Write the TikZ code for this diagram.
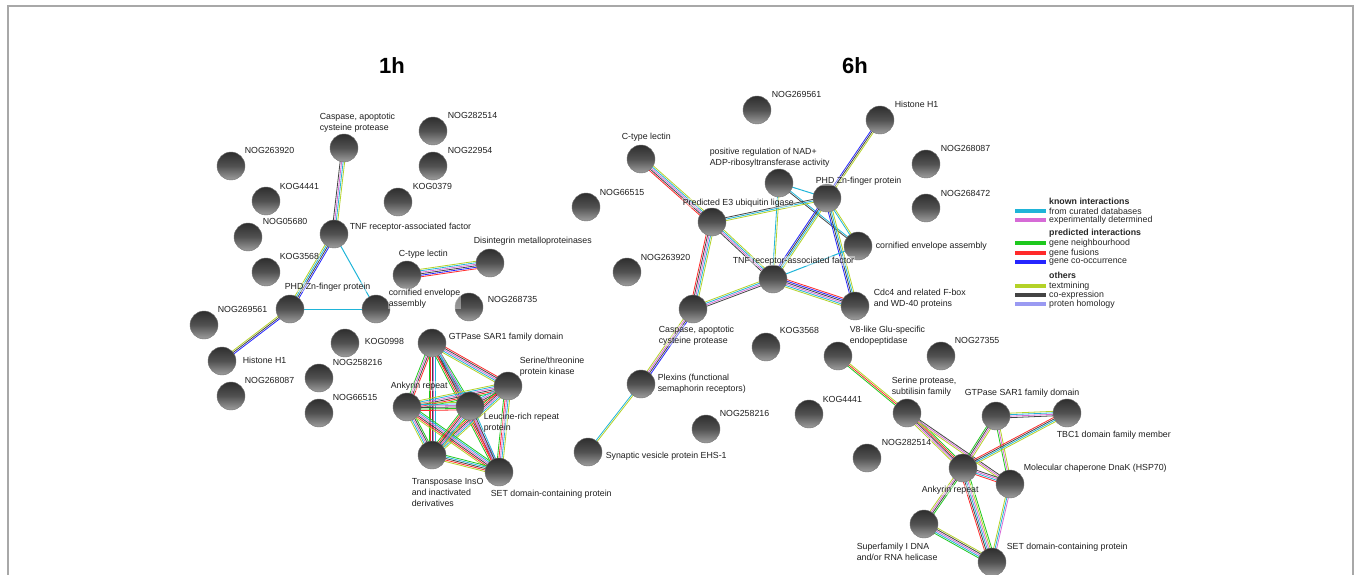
\documentclass[tikz,border=0pt]{standalone}
\usepackage{fontspec}
\setmainfont{Liberation Sans}
\usetikzlibrary{calc}
\pgfdeclarelayer{bg}
\pgfsetlayers{bg,main}
\definecolor{ccur}{HTML}{1FB4D8}
\definecolor{cexp}{HTML}{D66BD6}
\definecolor{cnei}{HTML}{1EC81E}
\definecolor{cfus}{HTML}{FF2A2A}
\definecolor{cocc}{HTML}{2525FF}
\definecolor{ctxt}{HTML}{B4D228}
\definecolor{ccoe}{HTML}{444444}
\definecolor{chom}{HTML}{9A9AF2}
\definecolor{frame}{HTML}{A8A8A8}
\newcommand\medge[3]{%
  \foreach \ecol [count=\en] in {#3}{\xdef\ncol{\en}}%
  \foreach \ecol [count=\ei] in {#3}{%
    \pgfmathsetmacro\off{(\ei-(\ncol+1)/2)*1.5}%
    \draw[\ecol, line width=0.8pt] ($(#1.center)!\off pt!90:(#2.center)$) -- ($(#2.center)!\off pt!-90:(#1.center)$);
  }}
\newcommand\sedge[3]{\draw[#3, line width=1pt] (#1.center) -- (#2.center);}
\tikzset{
  ball/.style={circle, minimum size=28pt, inner sep=0pt, draw=black!55, line width=0.4pt,
    top color=black!82, bottom color=black!38, middle color=black!68},
  lab/.style={anchor=west, align=left, inner sep=0.6pt, text=black!88,
    font=\fontsize{8.8}{11}\selectfont, fill=white, fill opacity=0.4, text opacity=1},
  ttl/.style={font=\fontsize{22}{26}\selectfont\bfseries},
  legline/.style={line width=3.2pt},
  legtext/.style={anchor=west, inner sep=0pt, font=\fontsize{8.8}{10}\selectfont, text=black!85},
  leghead/.style={legtext, font=\fontsize{8.8}{10}\selectfont\bfseries}
}
\begin{document}
\begin{tikzpicture}[x=1pt,y=-1pt]
\useasboundingbox (0,0) rectangle (1354,575);
\draw[frame, line width=1.3pt] (8,575) -- (8,6) -- (1353,6) -- (1353,575);
\node[ttl] (t1) at (392,66) {1h};
\node[ttl] (t6) at (855,66) {6h};
% ---------- left network balls
\node[ball] (Lcasp) at (344,148) {};
\node[ball] (L282514) at (433,131) {};
\node[ball] (L263920) at (231,166) {};
\node[ball] (L22954) at (433,166) {};
\node[ball] (L4441) at (266,201) {};
\node[ball] (L0379) at (398,202) {};
\node[ball] (L05680) at (248,237) {};
\node[ball] (Ltnf) at (334,234) {};
\node[ball] (L3568) at (266,272) {};
\node[ball] (Lctl) at (407,275) {};
\node[ball] (Ldis) at (490,263) {};
\node[ball] (Lphd) at (290,309) {};
\node[ball] (Lcorn) at (376,309) {};
\node[ball] (L268735) at (469,307) {};
\node[ball] (L269561) at (204,325) {};
\node[ball] (L0998) at (345,343) {};
\node[ball] (Lhist) at (222,361) {};
\node[ball] (Lgtp) at (432,343) {};
\node[ball] (L258216) at (319,378) {};
\node[ball] (L268087) at (231,396) {};
\node[ball] (Lstk) at (508,386) {};
\node[ball] (Lank) at (407,407) {};
\node[ball] (L66515) at (319,413) {};
\node[ball] (Llrr) at (470,406) {};
\node[ball] (Ltra) at (432,455) {};
\node[ball] (Lset) at (499,472) {};
% ---------- right network balls
\node[ball] (R269561) at (757,110) {};
\node[ball] (Rhist) at (880,120) {};
\node[ball] (Rctl) at (641,159) {};
\node[ball] (Rnad) at (779,183) {};
\node[ball] (R268087) at (926,164) {};
\node[ball] (Rphd) at (827,198) {};
\node[ball] (R268472) at (926,208) {};
\node[ball] (R66515) at (586,207) {};
\node[ball] (Re3) at (712,222) {};
\node[ball] (Rcorn) at (858,246) {};
\node[ball] (R263920) at (627,272) {};
\node[ball] (Rtnf) at (773,279) {};
\node[ball] (Rcasp) at (693,309) {};
\node[ball] (Rcdc) at (855,306) {};
\node[ball] (R3568) at (766,347) {};
\node[ball] (Rv8) at (838,356) {};
\node[ball] (R27355) at (941,356) {};
\node[ball] (Rplex) at (641,384) {};
\node[ball] (R4441) at (809,414) {};
\node[ball] (Rser) at (907,413) {};
\node[ball] (Rgtp) at (996,416) {};
\node[ball] (Rtbc) at (1067,413) {};
\node[ball] (R258216) at (706,429) {};
\node[ball] (R282514) at (867,458) {};
\node[ball] (Rsyn) at (588,452) {};
\node[ball] (Rank) at (963,468) {};
\node[ball] (Rdnak) at (1010,484) {};
\node[ball] (Rsup) at (924,524) {};
\node[ball] (Rset) at (992,562) {};
% ---------- edges
\begin{pgfonlayer}{bg}
\medge{Lcasp}{Ltnf}{ccoe,cexp,ccur,ctxt}
\medge{Ltnf}{Lphd}{ctxt,ccur,ccoe,cocc}
\sedge{Ltnf}{Lcorn}{ccur}
\sedge{Lphd}{Lcorn}{ccur}
\medge{Lphd}{Lhist}{ctxt,ccoe,cocc}
\medge{Lctl}{Ldis}{cfus,cocc,ccoe,cexp,ccur,ctxt}
\medge{Lgtp}{Lstk}{ctxt,ccur,cexp,ccoe,cfus}
\medge{Lgtp}{Lank}{cnei,cexp,ccoe,cfus}
\medge{Lgtp}{Llrr}{cfus,ccoe,ccur,cnei}
\medge{Lgtp}{Ltra}{cnei,cfus,ccoe,cexp,ccur}
\medge{Lgtp}{Lset}{cnei,cfus,ccoe,ccur,cexp}
\medge{Lstk}{Lank}{ctxt,ccur,cexp,ccoe,cfus,cnei}
\medge{Lstk}{Llrr}{ccur,cexp,ccoe,cfus}
\medge{Lstk}{Ltra}{cnei,cfus,ccoe,cexp,ccur,ctxt}
\medge{Lstk}{Lset}{cnei,cfus,cexp,ccur,ctxt}
\medge{Lank}{Llrr}{cfus,cnei,ccoe,cexp,ccur,ctxt}
\medge{Lank}{Ltra}{ctxt,ccur,cexp,ccoe,cnei}
\medge{Lank}{Lset}{ctxt,cfus,ccoe,cexp,ccur,cnei}
\medge{Llrr}{Ltra}{cnei,cfus,ccoe,cexp,ccur,ctxt}
\medge{Llrr}{Lset}{cfus,cexp,ccoe,ccur}
\medge{Ltra}{Lset}{ctxt,cfus,ccoe,ccur,cnei}
% right
\medge{Rhist}{Rphd}{cocc,ccoe,ctxt}
\medge{Rctl}{Re3}{cfus,ccoe,cexp,ccur,ctxt}
\sedge{Rnad}{Rphd}{ccur}
\medge{Rnad}{Rtnf}{ccur,ctxt}
\medge{Rnad}{Rcorn}{ccoe,ccur}
\medge{Re3}{Rphd}{ctxt,ccur,ccoe}
\medge{Re3}{Rtnf}{ccoe,cexp,ccur,ctxt}
\medge{Re3}{Rcasp}{cfus,ccoe,cexp,ccur,ctxt}
\medge{Rphd}{Rcorn}{ccur,ctxt}
\medge{Rphd}{Rtnf}{cocc,ccoe,ccur,ctxt}
\medge{Rphd}{Rcdc}{cocc,ccoe,ccur,ctxt}
\sedge{Rtnf}{Rcorn}{ccur}
\medge{Rtnf}{Rcdc}{ctxt,ccur,cexp,ccoe,cocc,cfus}
\medge{Rtnf}{Rcasp}{ctxt,ccur,cexp,ccoe}
\medge{Rcasp}{Rplex}{ctxt,cexp,ccoe,cocc}
\medge{Rplex}{Rsyn}{ccur,ctxt}
\medge{Rv8}{Rser}{cnei,cfus,ctxt}
\medge{Rser}{Rank}{ctxt,cexp,ccoe,cfus,cnei}
\medge{Rser}{Rdnak}{ctxt,cexp,ccoe}
\medge{Rgtp}{Rtbc}{ccoe,cexp,ccur,ctxt}
\medge{Rgtp}{Rank}{cnei,ccoe,cexp,ctxt}
\medge{Rgtp}{Rdnak}{cnei,cexp,ctxt}
\medge{Rtbc}{Rank}{cfus,ccoe,ccur,ctxt}
\medge{Rank}{Rdnak}{cfus,ccur,cexp,ccoe}
\medge{Rank}{Rsup}{ctxt,cexp,ccoe,cnei}
\medge{Rank}{Rset}{cfus,ccoe,ccur,cexp,ctxt,cnei}
\medge{Rdnak}{Rset}{ctxt,ccur,cexp}
\medge{Rsup}{Rset}{cnei,ccur,cexp,ccoe,ctxt}
\end{pgfonlayer}
% ---------- left labels
\node[lab] (Lcasp-l) at (319,122.5) {Caspase, apoptotic\\cysteine protease};
\node[lab] (L282514-l) at (447,115) {NOG282514};
\node[lab] (L263920-l) at (244,150) {NOG263920};
\node[lab] (L22954-l) at (447,150) {NOG22954};
\node[lab] (L4441-l) at (279,186) {KOG4441};
\node[lab] (L0379-l) at (412,186) {KOG0379};
\node[lab] (L05680-l) at (262,221) {NOG05680};
\node[lab] (Ltnf-l) at (349,227) {TNF receptor-associated factor};
\node[lab] (L3568-l) at (279,256) {KOG3568};
\node[lab] (Lctl-l) at (398,254) {C-type lectin};
\node[lab] (Ldis-l) at (473,241) {Disintegrin metalloproteinases};
\node[lab] (Lphd-l) at (284,287) {PHD Zn-finger protein};
\node[lab] (Lcorn-l) at (388,298.5) {cornified envelope\\assembly};
\node[lab] (L268735-l) at (487,299) {NOG268735};
\node[lab] (L269561-l) at (217,309) {NOG269561};
\node[lab] (L0998-l) at (364,341) {KOG0998};
\node[lab] (Lhist-l) at (242,360) {Histone H1};
\node[lab] (Lgtp-l) at (448,337) {GTPase SAR1 family domain};
\node[lab] (L258216-l) at (332,362) {NOG258216};
\node[lab] (L268087-l) at (244,380) {NOG268087};
\node[lab] (Lstk-l) at (519,366.5) {Serine/threonine\\protein kinase};
\node[lab] (Lank-l) at (390,386) {Ankyrin repeat};
\node[lab] (L66515-l) at (332,397) {NOG66515};
\node[lab] (Llrr-l) at (483,423) {Leucine-rich repeat\\protein};
\node[lab] (Ltra-l) at (411,492) {Transposase InsO\\and inactivated\\derivatives};
\node[lab] (Lset-l) at (490,494) {SET domain-containing protein};
% ---------- right labels
\node[lab] (R269561-l) at (771,94) {NOG269561};
\node[lab] (Rhist-l) at (894,104) {Histone H1};
\node[lab] (Rctl-l) at (621,137) {C-type lectin};
\node[lab] (Rnad-l) at (709,157.5) {positive regulation of NAD+\\ADP-ribosyltransferase activity};
\node[lab] (R268087-l) at (940,148) {NOG268087};
\node[lab] (Rphd-l) at (815,181) {PHD Zn-finger protein};
\node[lab] (R268472-l) at (940,193) {NOG268472};
\node[lab] (R66515-l) at (599,192) {NOG66515};
\node[lab] (Re3-l) at (682,203) {Predicted E3 ubiquitin ligase};
\node[lab] (Rcorn-l) at (875,246) {cornified envelope assembly};
\node[lab] (R263920-l) at (640,257) {NOG263920};
\node[lab] (Rtnf-l) at (732,261) {TNF receptor-associated factor};
\node[lab] (Rcasp-l) at (658,335.5) {Caspase, apoptotic\\cysteine protease};
\node[lab] (Rcdc-l) at (873,298.5) {Cdc4 and related F-box\\and WD-40 proteins};
\node[lab] (R3568-l) at (779,330) {KOG3568};
\node[lab] (Rv8-l) at (849,336) {V8-like Glu-specific\\endopeptidase};
\node[lab] (R27355-l) at (954,340) {NOG27355};
\node[lab] (Rplex-l) at (657,384) {Plexins (functional\\semaphorin receptors)};
\node[lab] (R4441-l) at (822,399) {KOG4441};
\node[lab] (Rser-l) at (891,387) {Serine protease,\\subtilisin family};
\node[lab] (Rgtp-l) at (964,393) {GTPase SAR1 family domain};
\node[lab] (Rtbc-l) at (1056,435) {TBC1 domain family member};
\node[lab] (R258216-l) at (719,413) {NOG258216};
\node[lab] (R282514-l) at (881,442) {NOG282514};
\node[lab] (Rsyn-l) at (605,456) {Synaptic vesicle protein EHS-1};
\node[lab] (Rank-l) at (921,490) {Ankyrin repeat};
\node[lab] (Rdnak-l) at (1023,468) {Molecular chaperone DnaK (HSP70)};
\node[lab] (Rsup-l) at (856,551.5) {Superfamily I DNA\\and/or RNA helicase};
\node[lab] (Rset-l) at (1006,547) {SET domain-containing protein};
% ---------- legend
\node[leghead] (h1) at (1049,201) {known interactions};
\coordinate (a1) at (1015,211); \coordinate (b1) at (1046,211);
\draw[legline, ccur] (a1) -- (b1);
\node[legtext] (x1) at (1049,211) {from curated databases};
\coordinate (a2) at (1015,220); \coordinate (b2) at (1046,220);
\draw[legline, cexp] (a2) -- (b2);
\node[legtext] (x2) at (1049,220) {experimentally determined};
\node[leghead] (h2) at (1049,233) {predicted interactions};
\coordinate (a3) at (1015,243); \coordinate (b3) at (1046,243);
\draw[legline, cnei] (a3) -- (b3);
\node[legtext] (x3) at (1049,243) {gene neighbourhood};
\coordinate (a4) at (1015,253); \coordinate (b4) at (1046,253);
\draw[legline, cfus] (a4) -- (b4);
\node[legtext] (x4) at (1049,253) {gene fusions};
\coordinate (a5) at (1015,262); \coordinate (b5) at (1046,262);
\draw[legline, cocc] (a5) -- (b5);
\node[legtext] (x5) at (1049,262) {gene co-occurrence};
\node[leghead] (h3) at (1049,275) {others};
\coordinate (a6) at (1015,286); \coordinate (b6) at (1046,286);
\draw[legline, ctxt] (a6) -- (b6);
\node[legtext] (x6) at (1049,286) {textmining};
\coordinate (a7) at (1015,295); \coordinate (b7) at (1046,295);
\draw[legline, ccoe] (a7) -- (b7);
\node[legtext] (x7) at (1049,295) {co-expression};
\coordinate (a8) at (1015,304); \coordinate (b8) at (1046,304);
\draw[legline, chom] (a8) -- (b8);
\node[legtext] (x8) at (1049,304) {proten homology};
\end{tikzpicture}
\end{document}
